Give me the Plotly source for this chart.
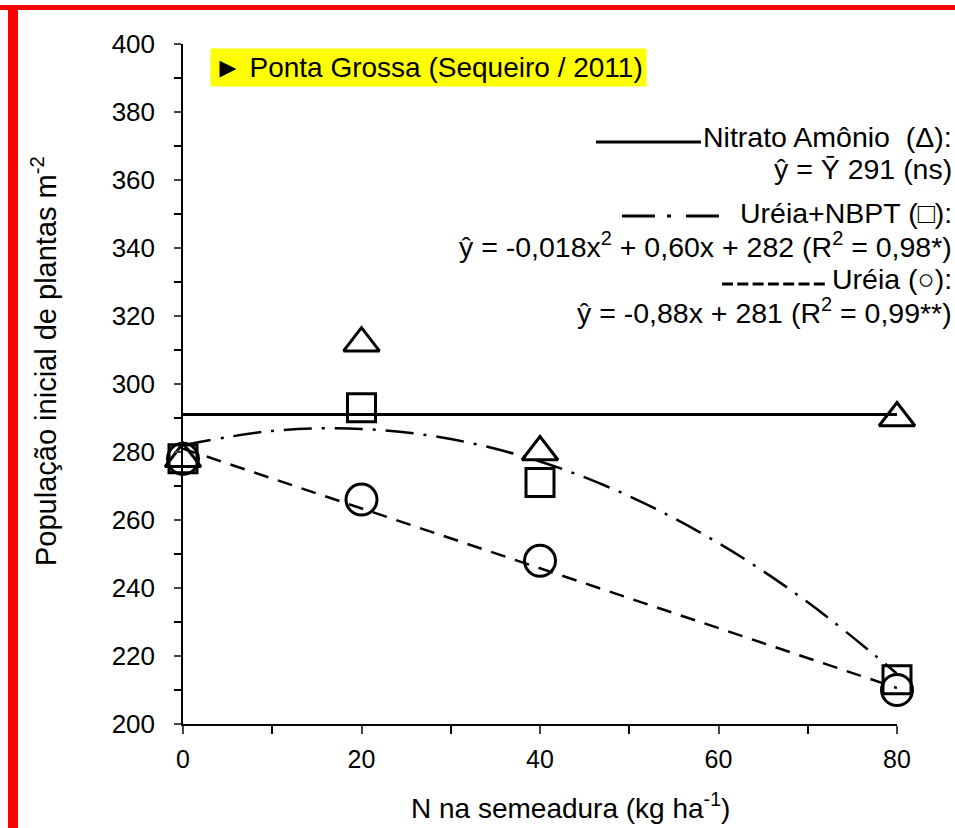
import plotly.graph_objects as go

# ---- data ----
doses = [0, 20, 40, 80]
nitrato = [278, 312, 280, 290]
ureia_nbpt = [278, 293, 271, 213]
ureia = [278, 266, 248, 210]

nitrato_fit_x = [0, 80]
nitrato_fit_y = [291, 291]
nbpt_fit_x = [0, 10, 20, 30, 40, 50, 60, 70, 80]
nbpt_fit_y = [282, 286.2, 286.8, 283.8, 277.2, 267, 253.2, 235.8, 214.8]
ureia_fit_x = [0, 80]
ureia_fit_y = [281, 210.6]

x_ticks = [0, 20, 40, 60, 80]
y_ticks = list(range(200, 401, 20))

FONT = "Liberation Sans, Arial, sans-serif"

# plot area in pixels
W, H = 955, 828
L, R, T, B = 183, 897, 44, 724

def px(x):
    return (x - L) / (R - L)

def py(y):
    return (B - y) / (B - T)

fig = go.Figure()

fig.add_trace(go.Scatter(x=nitrato_fit_x, y=nitrato_fit_y, mode="lines",
                         line=dict(color="black", width=3), showlegend=False))
fig.add_trace(go.Scatter(x=nbpt_fit_x, y=nbpt_fit_y, mode="lines", line_shape="spline",
                         line=dict(color="black", width=2.5, dash="28px,10px,3px,10px"),
                         showlegend=False))
fig.add_trace(go.Scatter(x=ureia_fit_x, y=ureia_fit_y, mode="lines",
                         line=dict(color="black", width=2.5, dash="15px,10px"),
                         showlegend=False))

fig.add_trace(go.Scatter(x=doses, y=ureia_nbpt, mode="markers", cliponaxis=False,
                         marker=dict(symbol="square-open", size=28, color="black",
                                     line=dict(width=3, color="black")),
                         showlegend=False))
fig.add_trace(go.Scatter(x=doses, y=ureia, mode="markers", cliponaxis=False,
                         marker=dict(symbol="circle-open", size=31, color="black",
                                     line=dict(width=3, color="black")),
                         showlegend=False))
fig.add_trace(go.Scatter(x=doses, y=nitrato, mode="markers", cliponaxis=False,
                         marker=dict(symbol="triangle-up-open", size=31, color="black",
                                     line=dict(width=3, color="black")),
                         showlegend=False))

shapes = []
# red border
shapes.append(dict(type="rect", xref="paper", yref="paper",
                   x0=px(0), x1=px(W), y0=py(5), y1=py(10),
                   fillcolor="#ff0000", line=dict(width=0), layer="above"))
shapes.append(dict(type="rect", xref="paper", yref="paper",
                   x0=px(8), x1=px(18), y0=py(10), y1=py(H),
                   fillcolor="#ff0000", line=dict(width=0), layer="above"))
# legend line samples
shapes.append(dict(type="line", xref="paper", yref="paper",
                   x0=px(596), x1=px(701), y0=py(142), y1=py(142),
                   line=dict(color="black", width=3)))
shapes.append(dict(type="line", xref="paper", yref="paper",
                   x0=px(622), x1=px(728), y0=py(216), y1=py(216),
                   line=dict(color="black", width=3, dash="33px,12px,4px,15px")))
shapes.append(dict(type="line", xref="paper", yref="paper",
                   x0=px(722), x1=px(829), y0=py(284), y1=py(284),
                   line=dict(color="black", width=3, dash="11px,4.3px")))

ann = []
ann.append(dict(xref="paper", yref="paper", x=px(210), y=py(67), xanchor="left", yanchor="middle",
                text="► Ponta Grossa (Sequeiro / 2011)", showarrow=False,
                bgcolor="#ffff00", borderpad=3,
                font=dict(family=FONT, size=28, color="black")))

leg_lines = [
    (137, "Nitrato Amônio  (Δ):"),
    (169, "ŷ = Ȳ 291 (ns)"),
    (213, "Uréia+NBPT (□):"),
    (245, "ŷ = -0,018x<sup>2</sup> + 0,60x + 282 (R<sup>2</sup> = 0,98*)"),
    (279, "Uréia (○):"),
    (311, "ŷ = -0,88x + 281 (R<sup>2</sup> = 0,99**)"),
]
for yy, t in leg_lines:
    ann.append(dict(xref="paper", yref="paper", x=px(954), y=py(yy), xanchor="right",
                    yanchor="middle", text=t, showarrow=False,
                    font=dict(family=FONT, size=28.5, color="black")))

# axis titles
ann.append(dict(xref="paper", yref="paper", x=px(570), y=py(806), xanchor="center",
                yanchor="middle", text="N na semeadura (kg ha<sup>-1</sup>)", showarrow=False,
                font=dict(family=FONT, size=28, color="black")))
ann.append(dict(xref="paper", yref="paper", x=px(44), y=py(361), xanchor="center",
                yanchor="middle", textangle=-90,
                text="População inicial de plantas m<sup>-2</sup>", showarrow=False,
                font=dict(family=FONT, size=29, color="black")))

fig.update_layout(
    width=W, height=H,
    margin=dict(l=L, r=W - R, t=T, b=H - B),
    paper_bgcolor="white", plot_bgcolor="white",
    shapes=shapes, annotations=ann,
    xaxis=dict(range=[0, 80], tickvals=x_ticks, ticks="outside", ticklen=8,
               tickwidth=1.5, showline=True, linecolor="black", linewidth=1.5,
               showgrid=False, zeroline=False, ticklabelstandoff=4,
               minor=dict(tickvals=[10, 30, 50, 70], ticks="outside", ticklen=8,
                          tickwidth=1.5, tickcolor="black", showgrid=False),
               tickfont=dict(family=FONT, size=25, color="black")),
    yaxis=dict(range=[200, 400], tickvals=y_ticks, ticks="outside",
               ticklen=7, tickwidth=1.5, showline=True, linecolor="black", linewidth=1.5,
               showgrid=False, zeroline=False, ticklabelstandoff=14,
               minor=dict(tickvals=list(range(210, 400, 20)), ticks="outside", ticklen=7,
                          tickwidth=1.5, tickcolor="black", showgrid=False),
               tickfont=dict(family=FONT, size=26, color="black")),
)

fig.write_html("out.html")
